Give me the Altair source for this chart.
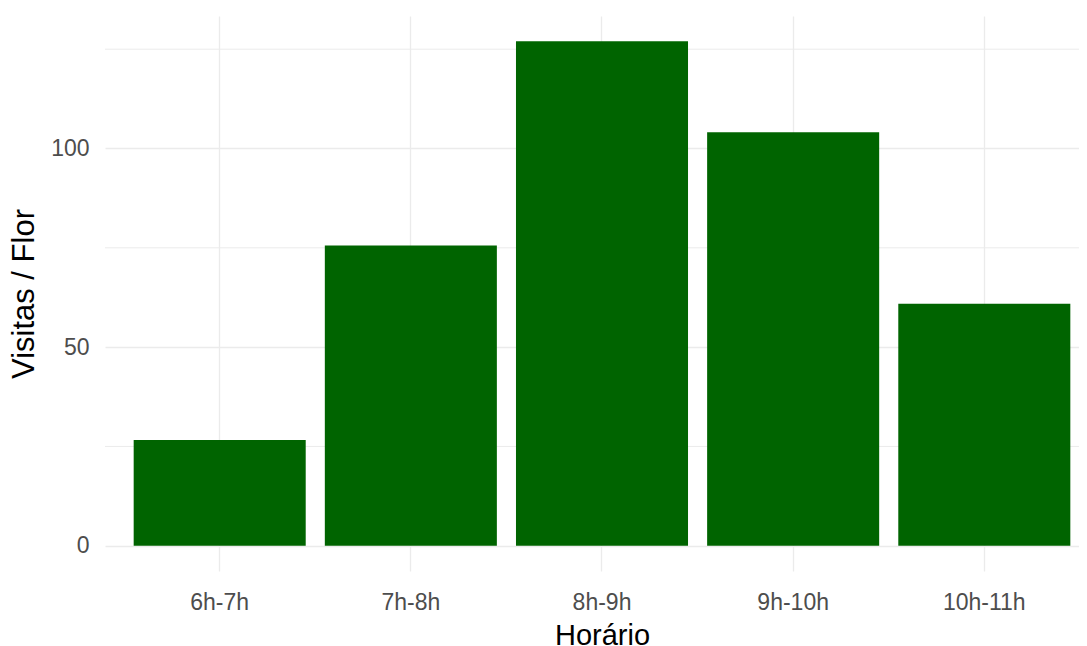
import altair as alt
import pandas as pd

horario = ["6h-7h", "7h-8h", "8h-9h", "9h-10h", "10h-11h"]
visitas = [26.6, 75.6, 127.0, 104.1, 60.9]

df = pd.DataFrame({"Horario": horario, "Visitas": visitas})

FONT = "Liberation Sans"

chart = alt.Chart(df).mark_bar(color="#006400").encode(
    x=alt.X(
        "Horario:N",
        sort=horario,
        scale=alt.Scale(range=[0, 994], paddingInner=0.1, paddingOuter=0.15),
        axis=alt.Axis(
            title="Horário",
            labelAngle=0,
            ticks=False,
            domain=False,
            grid=True,
            bandPosition=0.5,
            gridColor="#EBEBEB",
            gridWidth=1.3,
            labelFont=FONT,
            labelFontSize=23,
            labelColor="#4D4D4D",
            labelPadding=20,
            titleFont=FONT,
            titleFontSize=29,
            titleFontWeight="normal",
            titleColor="#000000",
            titlePadding=7,
        ),
    ),
    y=alt.Y(
        "Visitas:Q",
        scale=alt.Scale(domain=[-6.35, 133.35], nice=False, zero=False),
        axis=alt.Axis(
            title="Visitas / Flor",
            values=[0, 50, 100],
            ticks=False,
            domain=False,
            grid=True,
            gridColor="#EBEBEB",
            gridWidth=1.3,
            labelFont=FONT,
            labelFontSize=23,
            labelColor="#4D4D4D",
            labelPadding=16,
            titleFont=FONT,
            titleFontSize=31,
            titleFontWeight="normal",
            titleColor="#000000",
            titlePadding=10,
        ),
    ),
    y2=alt.datum(0),
)

minor = alt.Chart(pd.DataFrame({"v": [25, 75, 125]})).mark_rule(
    color="#EBEBEB", strokeWidth=1.0
).encode(y=alt.Y("v:Q"))

final = alt.layer(minor, chart).properties(
    width=974,
    height=555,
    background="white",
    padding={"left": 97, "top": 8, "right": 0, "bottom": 75},
    autosize=alt.AutoSizeParams(type="none"),
).configure_view(strokeWidth=0)

final.save("out.html", embed_options={"renderer": "svg", "actions": False})
